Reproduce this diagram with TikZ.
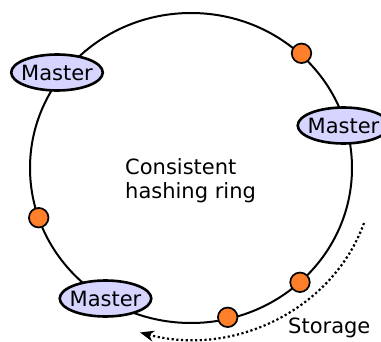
\documentclass[tikz,border=0pt]{standalone}
\usepackage{fontspec}
\setmainfont{DejaVu Sans}
\usetikzlibrary{shapes.geometric,arrows.meta}
\definecolor{masterfill}{HTML}{D5D5FF}
\definecolor{dotfill}{HTML}{FF7F2A}
\tikzset{
  master/.style={ellipse, draw=black, line width=2.6pt, fill=masterfill,
    inner xsep=-3.5pt, inner ysep=0pt, minimum height=36pt,
    font=\fontsize{21}{24}\selectfont},
  storedot/.style={circle, draw=black, line width=1.7pt, fill=dotfill,
    inner sep=0pt, minimum size=19.5pt},
  ring/.style={draw=black, line width=2pt},
  label/.style={inner sep=0pt, font=\fontsize{21}{24}\selectfont},
  migrate/.style={line width=2.2pt, dash pattern=on 2.2pt off 2.5pt,
    -{Stealth[length=14pt,width=11pt,inset=4.5pt]}}
}
\begin{document}
\begin{tikzpicture}[x=1pt,y=1pt]
\useasboundingbox (0,0) rectangle (381,341);
\coordinate (c) at (191,173);
\draw[ring] (c) ellipse[x radius=161, y radius=155];
\node[master] (m1) at (57,268.5) {Master};
\node[master] (m2) at (343.5,215.5) {Master};
\node[master] (m3) at (105.5,42.5) {Master};
\node[storedot] (d1) at (301.5,287.7) {};
\node[storedot] (d2) at (38.7,123.3) {};
\node[storedot] (d3) at (300,58.7) {};
\node[storedot] (d4) at (227.7,23.7) {};
\node[label, anchor=base west, align=left] (t) at (125,142.7) {Consistent\\hashing ring};
\node[label, anchor=base west] (s) at (288,7.7) {Storage};
\coordinate (a0) at (364,118);
\draw[migrate] (a0) arc[start angle=-18.5, end angle=-106, x radius=183, y radius=170];
\end{tikzpicture}
\end{document}
